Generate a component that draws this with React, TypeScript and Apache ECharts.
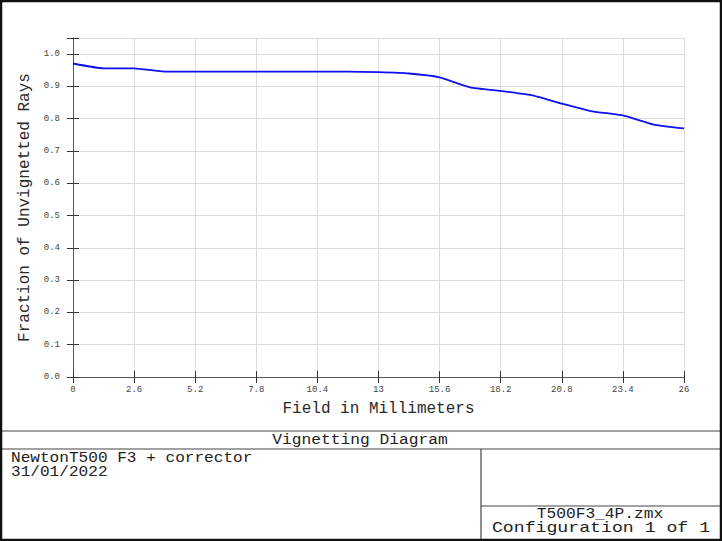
import React, { useEffect, useRef } from "react";
import * as echarts from "echarts";

const fieldMm = [0, 1.3, 2.6, 3.9, 5.2, 6.5, 7.8, 9.1, 10.4, 11.7, 13, 14.3, 15.6, 16.9, 18.2, 19.5, 20.8, 22.1, 23.4, 24.7, 26];
const fraction = [0.971, 0.956, 0.956, 0.946, 0.946, 0.946, 0.946, 0.946, 0.946, 0.946, 0.944, 0.94, 0.928, 0.897, 0.886, 0.873, 0.847, 0.823, 0.81, 0.782, 0.77];

const xTickStep = 2.6;
const xMax = 26;
const yTickStep = 0.1;
const yMax = 1.05;

const chartTitle = "Vignetting Diagram";
const xName = "Field in Millimeters";
const yName = "Fraction of Unvignetted Rays";
const infoLines = ["NewtonT500 F3 + corrector", "31/01/2022"];
const fileLines = ["T500F3_4P.zmx", "Configuration 1 of 1"];

const MONO = "'Liberation Mono', 'DejaVu Sans Mono', monospace";

export default function App() {
  const ref = useRef<HTMLDivElement>(null);

  useEffect(() => {
    if (!ref.current) return;
    const chart = echarts.init(ref.current, null, { renderer: "svg" });
    const fmtX = (v: number) => String(Math.round(v * 10) / 10);
    const fmtY = (v: number) => {
      const k = v / yTickStep;
      if (Math.abs(k - Math.round(k)) > 1e-6) return "";
      return v.toFixed(1);
    };
    const axisLineStyle = { color: "#555", width: 1 };
    const tickStyle = { color: "#333", width: 1 };
    const labelStyle = { fontFamily: MONO, fontSize: 9, color: "#444" };
    const nameStyle = { fontFamily: MONO, fontSize: 16, color: "#2a2a2a" };

    const txt = (text: string, x: number, y: number, align: string, size: number, sx: number) => ({
      type: "text",
      silent: true,
      x,
      y,
      scaleX: sx,
      scaleY: 1,
      style: {
        text,
        x: 0,
        y: 0,
        fill: "#222",
        font: `${size}px ${MONO}`,
        align,
        verticalAlign: "middle",
        textAlign: align,
        textVerticalAlign: "middle",
      },
    });
    const ln = (x1: number, y1: number, x2: number, y2: number, w = 1.2, c = "#444") => ({
      type: "line",
      silent: true,
      shape: { x1, y1, x2, y2 },
      style: { stroke: c, lineWidth: w },
    });

    chart.setOption({
      animation: false,
      backgroundColor: "#fff",
      grid: { left: 73, right: 38, top: 38, bottom: 164, containLabel: false },
      xAxis: [
        {
          type: "value",
          position: "bottom",
          min: 0,
          max: xMax,
          interval: xTickStep,
          name: xName,
          nameLocation: "middle",
          nameGap: 24,
          nameTextStyle: nameStyle,
          axisLine: { show: true, lineStyle: axisLineStyle },
          axisTick: { show: true, inside: true, length: 6, lineStyle: tickStyle },
          axisLabel: { ...labelStyle, margin: 8, formatter: fmtX },
          splitLine: { show: true, lineStyle: { color: "#dcdcdc", width: 1 } },
        },
        {
          type: "value",
          position: "top",
          min: 0,
          max: xMax,
          interval: xTickStep,
          axisLine: { show: true, lineStyle: axisLineStyle },
          axisTick: { show: true, inside: true, length: 6, lineStyle: tickStyle },
          axisLabel: { show: false },
          splitLine: { show: false },
        },
      ],
      yAxis: [
        {
          type: "value",
          position: "left",
          min: 0,
          max: yMax,
          interval: yTickStep,
          name: yName,
          nameLocation: "middle",
          nameGap: 37,
          nameTextStyle: nameStyle,
          axisLine: { show: true, lineStyle: axisLineStyle },
          axisTick: { show: true, inside: true, length: 6, lineStyle: tickStyle },
          axisLabel: { ...labelStyle, margin: 13, formatter: fmtY },
          splitLine: { show: true, lineStyle: { color: "#dcdcdc", width: 1 } },
        },
        {
          type: "value",
          position: "right",
          min: 0,
          max: yMax,
          interval: yTickStep,
          axisLine: { show: true, lineStyle: axisLineStyle },
          axisTick: { show: true, inside: true, length: 6, lineStyle: tickStyle },
          axisLabel: { show: false },
          splitLine: { show: false },
        },
      ],
      series: [
        {
          type: "line",
          xAxisIndex: 0,
          yAxisIndex: 0,
          data: fieldMm.map((x, i) => [x, fraction[i]]),
          showSymbol: false,
          smooth: 0.15,
          lineStyle: { color: "#1010ee", width: 1.8 },
          itemStyle: { color: "#1010ee" },
        },
      ],
      graphic: [
        ln(0, 431, 722, 431),
        ln(0, 449, 722, 449),
        ln(481, 449, 481, 541),
        ln(481, 506, 722, 506),
        {
          type: "rect",
          silent: true,
          shape: { x: 1, y: 1, width: 720, height: 539 },
          style: { fill: "none", stroke: "#111", lineWidth: 2.5 },
        },
        txt(chartTitle, 360, 440, "center", 14, 1.16),
        txt(infoLines[0], 11, 458, "left", 14, 1.15),
        txt(infoLines[1], 11, 472.5, "left", 14, 1.15),
        txt(fileLines[0], 600, 514, "center", 14, 1.16),
        txt(fileLines[1], 601, 528.5, "center", 14, 1.3),
      ],
    });
    return () => chart.dispose();
  }, []);

  return (
    <div
      ref={ref}
      style={{ position: "absolute", left: 0, top: 0, width: 722, height: 541, background: "#fff" }}
    />
  );
}
